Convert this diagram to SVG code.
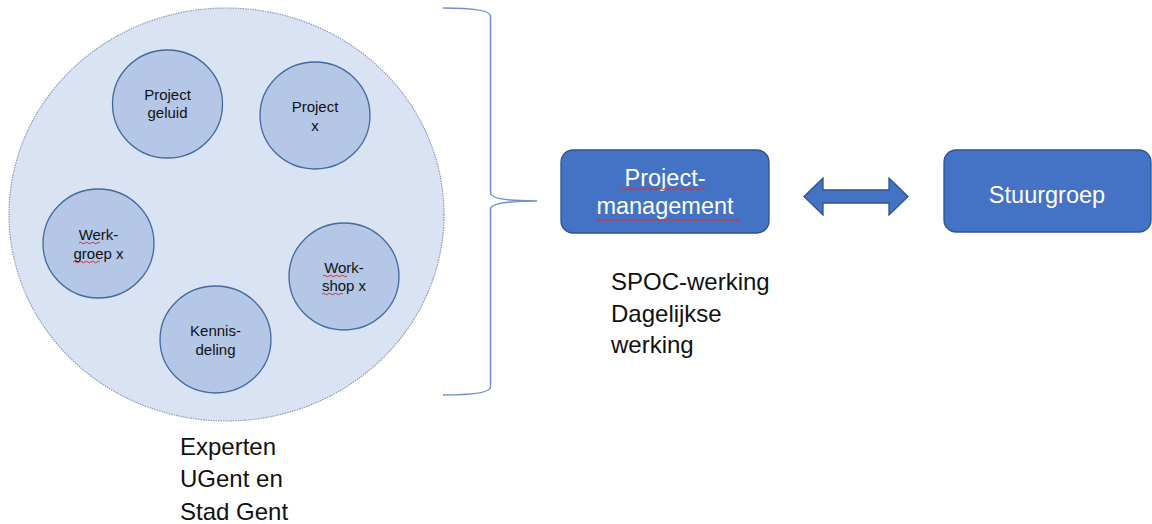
<svg xmlns="http://www.w3.org/2000/svg" width="1152" height="524" viewBox="0 0 1152 524">
<style>
.small{fill:#b4c7e7;stroke:#41699e;stroke-width:1.3}
.st{font-family:"Liberation Sans",Arial,sans-serif;font-size:15px;fill:#111111;text-anchor:middle}
.box{fill:#4472c4;stroke:#2f528f;stroke-width:1.3}
.bt{font-family:"Liberation Sans",Arial,sans-serif;font-size:23.5px;fill:#ffffff;text-anchor:middle}
.big{font-family:"Liberation Sans",Arial,sans-serif;font-size:24px;fill:#111111}
.sq{fill:none;stroke:#d03030;stroke-width:1}
</style>
<rect width="1152" height="524" fill="#ffffff"/>
<g id="experts">
<ellipse cx="226.5" cy="214.5" rx="217.5" ry="206.5" fill="#dae3f3" stroke="#8c9bb5" stroke-width="1.2" stroke-dasharray="1.5 1"/>
</g>
<g id="project-geluid">
<ellipse class="small" cx="167.5" cy="104" rx="55" ry="54"/>
<text class="st" x="167.5" y="100">Project</text>
<text class="st" x="167.5" y="118">geluid</text>
</g>
<g id="project-x">
<ellipse class="small" cx="315" cy="115.5" rx="55" ry="53.5"/>
<text class="st" x="315" y="112">Project</text>
<text class="st" x="315" y="131">x</text>
</g>
<g id="werkgroep-x">
<ellipse class="small" cx="98.5" cy="243.5" rx="55.5" ry="54.5"/>
<text class="st" x="98.5" y="240">Werk-</text>
<text class="st" x="98.5" y="259">groep x</text>
<path class="sq" d="M79 243 q1.5 -1.5 3 0 t3 0 t3 0 t3 0 t3 0 t3 0 t3 0"/>
<path class="sq" d="M73 262 q1.5 -1.5 3 0 t3 0 t3 0 t3 0 t3 0 t3 0 t3 0 t3 0 t3 0"/>
</g>
<g id="workshop-x">
<ellipse class="small" cx="344" cy="276.5" rx="55" ry="53.5"/>
<text class="st" x="344" y="273">Work-</text>
<text class="st" x="344" y="291">shop x</text>
<path class="sq" d="M323 276 q1.5 -1.5 3 0 t3 0 t3 0 t3 0 t3 0 t3 0 t3 0 t3 0"/>
<path class="sq" d="M322 294 q1.5 -1.5 3 0 t3 0 t3 0 t3 0 t3 0 t3 0 t3 0"/>
</g>
<g id="kennisdeling">
<ellipse class="small" cx="215.5" cy="339.5" rx="55.5" ry="53.5"/>
<text class="st" x="215.5" y="336">Kennis-</text>
<text class="st" x="215.5" y="355">deling</text>
</g>
<g id="projectmanagement">
<rect class="box" x="561" y="150" width="208" height="83" rx="12"/>
<text class="bt" x="665" y="186">Project-</text>
<text class="bt" x="665" y="214">management</text>
<path class="sq" d="M622 189 q1.5 -1.5 3 0 t3 0 t3 0 t3 0 t3 0 t3 0 t3 0 t3 0 t3 0 t3 0 t3 0 t3 0 t3 0 t3 0 t3 0 t3 0 t3 0 t3 0 t3 0 t3 0 t3 0 t3 0 t3 0 t3 0 t3 0 t3 0 t3 0 t3 0"/>
<path class="sq" d="M595 220 q1.5 -1.5 3 0 t3 0 t3 0 t3 0 t3 0 t3 0 t3 0 t3 0 t3 0 t3 0 t3 0 t3 0 t3 0 t3 0 t3 0 t3 0 t3 0 t3 0 t3 0 t3 0 t3 0 t3 0 t3 0 t3 0 t3 0 t3 0 t3 0 t3 0 t3 0 t3 0 t3 0 t3 0 t3 0 t3 0 t3 0 t3 0 t3 0 t3 0 t3 0 t3 0 t3 0 t3 0 t3 0 t3 0 t3 0 t3 0 t3 0 t3 0"/>
</g>
<g id="stuurgroep">
<rect class="box" x="944" y="150" width="207" height="82" rx="12"/>
<text class="bt" x="1047" y="203">Stuurgroep</text>
</g>
<g id="connectors">
<path d="M443 8 Q490 8 490.5 16 L490.5 193 Q491 201 537 201 Q491 201 490.5 209 L490.5 387 Q490 395 443 395" fill="none" stroke="#6f8fd0" stroke-width="1.5"/>
<path d="M804 196.5 L823 178 L823 190 L889 190 L889 178 L908 196.5 L889 215 L889 203 L823 203 L823 215 Z" fill="#4472c4" stroke="#2f528f" stroke-width="1.3" stroke-linejoin="miter"/>
</g>
<g id="labels">
<text class="big" x="611" y="290">SPOC-werking</text>
<text class="big" x="611" y="322">Dagelijkse</text>
<text class="big" x="611" y="353">werking</text>
<text class="big" x="180" y="455">Experten</text>
<text class="big" x="180" y="487">UGent en</text>
<text class="big" x="180" y="520">Stad Gent</text>
</g>
</svg>
